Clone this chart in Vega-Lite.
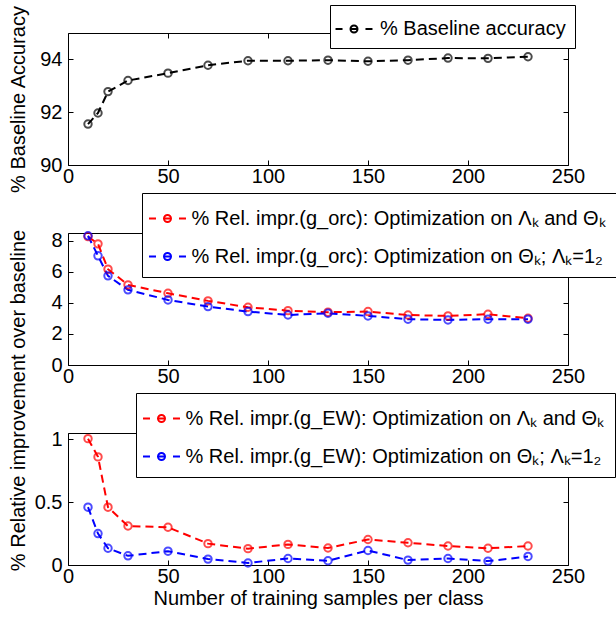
{
  "$schema": "https://vega.github.io/schema/vega-lite/v6.json",
  "autosize": {"type": "none"},
  "padding": {"left": 68, "top": 33, "right": 548, "bottom": 585},
  "bounds": "flush",
  "spacing": 68,
  "resolve": {"scale": {"color": "independent"}, "legend": {"color": "independent"}},
  "datasets": {
    "baseline": [
      {"x": 10, "y": 91.55, "s": "% Baseline accuracy"},
      {"x": 15, "y": 91.97, "s": "% Baseline accuracy"},
      {"x": 20, "y": 92.78, "s": "% Baseline accuracy"},
      {"x": 30, "y": 93.2, "s": "% Baseline accuracy"},
      {"x": 50, "y": 93.48, "s": "% Baseline accuracy"},
      {"x": 70, "y": 93.78, "s": "% Baseline accuracy"},
      {"x": 90, "y": 93.95, "s": "% Baseline accuracy"},
      {"x": 110, "y": 93.95, "s": "% Baseline accuracy"},
      {"x": 130, "y": 93.97, "s": "% Baseline accuracy"},
      {"x": 150, "y": 93.93, "s": "% Baseline accuracy"},
      {"x": 170, "y": 93.97, "s": "% Baseline accuracy"},
      {"x": 190, "y": 94.05, "s": "% Baseline accuracy"},
      {"x": 210, "y": 94.04, "s": "% Baseline accuracy"},
      {"x": 230, "y": 94.1, "s": "% Baseline accuracy"}
    ],
    "orc": [
      {"x": 10, "y": 8.27, "s": "% Rel. impr.(g_orc): Optimization on Λₖ and Θₖ"},
      {"x": 15, "y": 7.8, "s": "% Rel. impr.(g_orc): Optimization on Λₖ and Θₖ"},
      {"x": 20, "y": 6.17, "s": "% Rel. impr.(g_orc): Optimization on Λₖ and Θₖ"},
      {"x": 30, "y": 5.16, "s": "% Rel. impr.(g_orc): Optimization on Λₖ and Θₖ"},
      {"x": 50, "y": 4.62, "s": "% Rel. impr.(g_orc): Optimization on Λₖ and Θₖ"},
      {"x": 70, "y": 4.13, "s": "% Rel. impr.(g_orc): Optimization on Λₖ and Θₖ"},
      {"x": 90, "y": 3.72, "s": "% Rel. impr.(g_orc): Optimization on Λₖ and Θₖ"},
      {"x": 110, "y": 3.5, "s": "% Rel. impr.(g_orc): Optimization on Λₖ and Θₖ"},
      {"x": 130, "y": 3.4, "s": "% Rel. impr.(g_orc): Optimization on Λₖ and Θₖ"},
      {"x": 150, "y": 3.44, "s": "% Rel. impr.(g_orc): Optimization on Λₖ and Θₖ"},
      {"x": 170, "y": 3.22, "s": "% Rel. impr.(g_orc): Optimization on Λₖ and Θₖ"},
      {"x": 190, "y": 3.16, "s": "% Rel. impr.(g_orc): Optimization on Λₖ and Θₖ"},
      {"x": 210, "y": 3.27, "s": "% Rel. impr.(g_orc): Optimization on Λₖ and Θₖ"},
      {"x": 230, "y": 3.01, "s": "% Rel. impr.(g_orc): Optimization on Λₖ and Θₖ"},
      {"x": 10, "y": 8.32, "s": "% Rel. impr.(g_orc): Optimization on Θₖ; Λₖ=1₂"},
      {"x": 15, "y": 7.03, "s": "% Rel. impr.(g_orc): Optimization on Θₖ; Λₖ=1₂"},
      {"x": 20, "y": 5.74, "s": "% Rel. impr.(g_orc): Optimization on Θₖ; Λₖ=1₂"},
      {"x": 30, "y": 4.84, "s": "% Rel. impr.(g_orc): Optimization on Θₖ; Λₖ=1₂"},
      {"x": 50, "y": 4.19, "s": "% Rel. impr.(g_orc): Optimization on Θₖ; Λₖ=1₂"},
      {"x": 70, "y": 3.76, "s": "% Rel. impr.(g_orc): Optimization on Θₖ; Λₖ=1₂"},
      {"x": 90, "y": 3.44, "s": "% Rel. impr.(g_orc): Optimization on Θₖ; Λₖ=1₂"},
      {"x": 110, "y": 3.22, "s": "% Rel. impr.(g_orc): Optimization on Θₖ; Λₖ=1₂"},
      {"x": 130, "y": 3.33, "s": "% Rel. impr.(g_orc): Optimization on Θₖ; Λₖ=1₂"},
      {"x": 150, "y": 3.16, "s": "% Rel. impr.(g_orc): Optimization on Θₖ; Λₖ=1₂"},
      {"x": 170, "y": 2.95, "s": "% Rel. impr.(g_orc): Optimization on Θₖ; Λₖ=1₂"},
      {"x": 190, "y": 2.9, "s": "% Rel. impr.(g_orc): Optimization on Θₖ; Λₖ=1₂"},
      {"x": 210, "y": 2.95, "s": "% Rel. impr.(g_orc): Optimization on Θₖ; Λₖ=1₂"},
      {"x": 230, "y": 2.95, "s": "% Rel. impr.(g_orc): Optimization on Θₖ; Λₖ=1₂"}
    ],
    "ew": [
      {"x": 10, "y": 1.005, "s": "% Rel. impr.(g_EW): Optimization on Λₖ and Θₖ"},
      {"x": 15, "y": 0.86, "s": "% Rel. impr.(g_EW): Optimization on Λₖ and Θₖ"},
      {"x": 20, "y": 0.46, "s": "% Rel. impr.(g_EW): Optimization on Λₖ and Θₖ"},
      {"x": 30, "y": 0.31, "s": "% Rel. impr.(g_EW): Optimization on Λₖ and Θₖ"},
      {"x": 50, "y": 0.3, "s": "% Rel. impr.(g_EW): Optimization on Λₖ and Θₖ"},
      {"x": 70, "y": 0.17, "s": "% Rel. impr.(g_EW): Optimization on Λₖ and Θₖ"},
      {"x": 90, "y": 0.13, "s": "% Rel. impr.(g_EW): Optimization on Λₖ and Θₖ"},
      {"x": 110, "y": 0.164, "s": "% Rel. impr.(g_EW): Optimization on Λₖ and Θₖ"},
      {"x": 130, "y": 0.135, "s": "% Rel. impr.(g_EW): Optimization on Λₖ and Θₖ"},
      {"x": 150, "y": 0.203, "s": "% Rel. impr.(g_EW): Optimization on Λₖ and Θₖ"},
      {"x": 170, "y": 0.177, "s": "% Rel. impr.(g_EW): Optimization on Λₖ and Θₖ"},
      {"x": 190, "y": 0.151, "s": "% Rel. impr.(g_EW): Optimization on Λₖ and Θₖ"},
      {"x": 210, "y": 0.133, "s": "% Rel. impr.(g_EW): Optimization on Λₖ and Θₖ"},
      {"x": 230, "y": 0.151, "s": "% Rel. impr.(g_EW): Optimization on Λₖ and Θₖ"},
      {"x": 10, "y": 0.46, "s": "% Rel. impr.(g_EW): Optimization on Θₖ; Λₖ=1₂"},
      {"x": 15, "y": 0.25, "s": "% Rel. impr.(g_EW): Optimization on Θₖ; Λₖ=1₂"},
      {"x": 20, "y": 0.133, "s": "% Rel. impr.(g_EW): Optimization on Θₖ; Λₖ=1₂"},
      {"x": 30, "y": 0.073, "s": "% Rel. impr.(g_EW): Optimization on Θₖ; Λₖ=1₂"},
      {"x": 50, "y": 0.11, "s": "% Rel. impr.(g_EW): Optimization on Θₖ; Λₖ=1₂"},
      {"x": 70, "y": 0.047, "s": "% Rel. impr.(g_EW): Optimization on Θₖ; Λₖ=1₂"},
      {"x": 90, "y": 0.016, "s": "% Rel. impr.(g_EW): Optimization on Θₖ; Λₖ=1₂"},
      {"x": 110, "y": 0.052, "s": "% Rel. impr.(g_EW): Optimization on Θₖ; Λₖ=1₂"},
      {"x": 130, "y": 0.034, "s": "% Rel. impr.(g_EW): Optimization on Θₖ; Λₖ=1₂"},
      {"x": 150, "y": 0.115, "s": "% Rel. impr.(g_EW): Optimization on Θₖ; Λₖ=1₂"},
      {"x": 170, "y": 0.039, "s": "% Rel. impr.(g_EW): Optimization on Θₖ; Λₖ=1₂"},
      {"x": 190, "y": 0.052, "s": "% Rel. impr.(g_EW): Optimization on Θₖ; Λₖ=1₂"},
      {"x": 210, "y": 0.031, "s": "% Rel. impr.(g_EW): Optimization on Θₖ; Λₖ=1₂"},
      {"x": 230, "y": 0.068, "s": "% Rel. impr.(g_EW): Optimization on Θₖ; Λₖ=1₂"}
    ]
  },
  "vconcat": [
    {
      "width": 500,
      "height": 132,
      "data": {"name": "baseline"},
      "layer": [
        {
          "mark": {"type": "line", "strokeDash": [8, 5], "strokeWidth": 2},
          "encoding": {
            "x": {"field": "x", "type": "quantitative", "scale": {"domain": [0, 250], "nice": false},
                  "axis": {"values": [0, 50, 100, 150, 200, 250], "title": null}},
            "y": {"field": "y", "type": "quantitative", "scale": {"domain": [90, 95], "nice": false, "zero": false},
                  "axis": {"values": [90, 92, 94], "title": "% Baseline Accuracy", "titleX": -40}},
            "color": {"field": "s", "type": "nominal", "scale": {"domain": ["% Baseline accuracy"], "range": ["black"]},
                      "legend": {"orient": "none", "legendX": 262, "legendY": -28, "padding": 9, "labelFontSize": 20, "labelOffset": 11,
                                 "encode": {"symbols": {"update": {"strokeDash": {"value": []}}}}}}
          }
        },
        {
          "mark": {"type": "point", "shape": "circle", "filled": false, "size": 55, "strokeWidth": 2},
          "encoding": {
            "x": {"field": "x", "type": "quantitative", "axis": {"orient": "top", "values": [0, 50, 100, 150, 200, 250], "labels": false, "title": null}},
            "y": {"field": "y", "type": "quantitative", "axis": {"orient": "right", "values": [90, 92, 94], "labels": false, "title": null}},
            "color": {"field": "s", "type": "nominal"}
          }
        }
      ],
      "resolve": {"axis": {"x": "independent", "y": "independent"}}
    },
    {
      "width": 500,
      "height": 132,
      "data": {"name": "orc"},
      "layer": [
        {
          "mark": {"type": "line", "strokeDash": [8, 5], "strokeWidth": 2},
          "encoding": {
            "x": {"field": "x", "type": "quantitative", "scale": {"domain": [0, 250], "nice": false},
                  "axis": {"values": [0, 50, 100, 150, 200, 250], "title": null}},
            "y": {"field": "y", "type": "quantitative", "scale": {"domain": [0, 8.5], "nice": false},
                  "axis": {"values": [0, 2, 4, 6, 8], "title": null}},
            "color": {"field": "s", "type": "nominal",
                      "scale": {"domain": ["% Rel. impr.(g_orc): Optimization on Λₖ and Θₖ", "% Rel. impr.(g_orc): Optimization on Θₖ; Λₖ=1₂"], "range": ["#ff0000", "#0000ff"]},
                      "legend": {"orient": "none", "legendX": 74, "legendY": -40, "padding": 10.5, "rowPadding": 13, "labelFontSize": 20, "labelOffset": 9,
                                 "encode": {"symbols": {"update": {"strokeDash": {"value": []}}}}}}
          }
        },
        {
          "mark": {"type": "point", "shape": "circle", "filled": false, "size": 55, "strokeWidth": 2},
          "encoding": {
            "x": {"field": "x", "type": "quantitative", "axis": {"orient": "top", "values": [0, 50, 100, 150, 200, 250], "labels": false, "title": null}},
            "y": {"field": "y", "type": "quantitative", "axis": {"orient": "right", "values": [0, 2, 4, 6, 8], "labels": false, "title": null}},
            "color": {"field": "s", "type": "nominal"}
          }
        }
      ],
      "resolve": {"axis": {"x": "independent", "y": "independent"}}
    },
    {
      "width": 500,
      "height": 132,
      "data": {"name": "ew"},
      "layer": [
        {
          "mark": {"type": "line", "strokeDash": [8, 5], "strokeWidth": 2},
          "encoding": {
            "x": {"field": "x", "type": "quantitative", "scale": {"domain": [0, 250], "nice": false},
                  "axis": {"values": [0, 50, 100, 150, 200, 250], "title": "Number of training samples per class", "titlePadding": 2}},
            "y": {"field": "y", "type": "quantitative", "scale": {"domain": [0, 1.05], "nice": false},
                  "axis": {"values": [0, 0.5, 1], "format": "~g", "title": "% Relative improvement over baseline", "titleX": -40, "titleY": -33}},
            "color": {"field": "s", "type": "nominal",
                      "scale": {"domain": ["% Rel. impr.(g_EW): Optimization on Λₖ and Θₖ", "% Rel. impr.(g_EW): Optimization on Θₖ; Λₖ=1₂"], "range": ["#ff0000", "#0000ff"]},
                      "legend": {"orient": "none", "legendX": 68, "legendY": -40, "padding": 10.5, "rowPadding": 13, "labelFontSize": 20, "labelOffset": 9,
                                 "encode": {"symbols": {"update": {"strokeDash": {"value": []}}}}}}
          }
        },
        {
          "mark": {"type": "point", "shape": "circle", "filled": false, "size": 55, "strokeWidth": 2},
          "encoding": {
            "x": {"field": "x", "type": "quantitative", "axis": {"orient": "top", "values": [0, 50, 100, 150, 200, 250], "labels": false, "title": null}},
            "y": {"field": "y", "type": "quantitative", "axis": {"orient": "right", "values": [0, 0.5, 1], "labels": false, "title": null}},
            "color": {"field": "s", "type": "nominal"}
          }
        }
      ],
      "resolve": {"axis": {"x": "independent", "y": "independent"}}
    }
  ],
  "config": {
    "font": "Liberation Sans",
    "view": {"stroke": "black", "strokeWidth": 1},
    "axis": {
      "grid": false, "domain": false, "tickColor": "black", "tickSize": -5, "tickWidth": 1,
      "labelFont": "Liberation Sans", "labelFontSize": 20, "labelColor": "black", "labelFlush": false,
      "titleFont": "Liberation Sans", "titleFontSize": 20, "titleFontWeight": "normal", "titleColor": "black"
    },
    "axisX": {"labelPadding": 6},
    "axisY": {"labelPadding": 11},
    "legend": {
      "title": null,
      "fillColor": "white", "strokeColor": "black",
      "symbolType": "M-1.32,0L-0.82,0M0.82,0L1.32,0M-0.25,0A0.25,0.25,0,1,1,0.25,0A0.25,0.25,0,1,1,-0.25,0M-0.25,0L0.25,0",
      "symbolSize": 784, "symbolStrokeWidth": 2, "symbolFillColor": "transparent",
      "labelFont": "Liberation Sans", "labelColor": "black", "labelLimit": 1000
    }
  }
}
